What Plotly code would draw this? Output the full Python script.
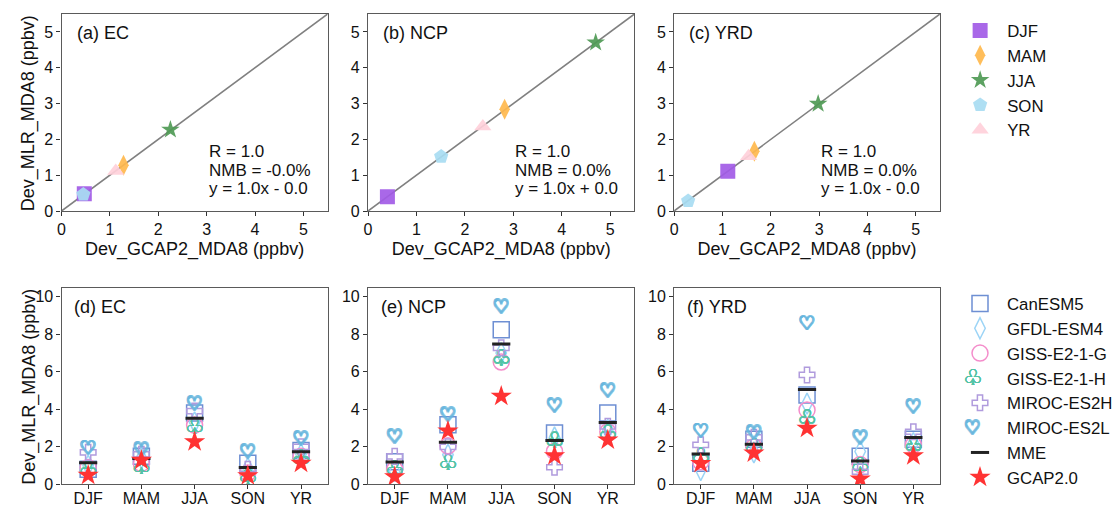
import plotly.graph_objects as go

W, H = 1118, 507

# ---------------- data ----------------
seasons = ["DJF", "MAM", "JJA", "SON", "YR"]
top_labels = ["(a) EC", "(b) NCP", "(c) YRD"]
bot_labels = ["(d) EC", "(e) NCP", "(f) YRD"]

# Dev_GCAP2_MDA8 (x of top panels)
gcap_ec = [0.47, 1.28, 2.25, 0.45, 1.12]
gcap_ncp = [0.40, 2.82, 4.70, 1.51, 2.37]
gcap_yrd = [1.11, 1.66, 2.98, 0.29, 1.54]
# Dev_MLR_MDA8 driven by GCAP2.0 (y of top panels, stars of bottom panels)
mlr_ec = [0.48, 1.28, 2.27, 0.46, 1.12]
mlr_ncp = [0.40, 2.84, 4.70, 1.52, 2.36]
mlr_yrd = [1.11, 1.67, 2.99, 0.28, 1.53]

stats_a = ["R = 1.0", "NMB = -0.0%", "y = 1.0x - 0.0"]
stats_b = ["R = 1.0", "NMB = 0.0%", "y = 1.0x + 0.0"]
stats_c = ["R = 1.0", "NMB = 0.0%", "y = 1.0x - 0.0"]

one_to_one = [0, 5.5]

# CMIP6 models, Dev_MLR_MDA8 (ppbv)
canesm5_ec = [0.80, 1.50, 3.80, 1.12, 1.80]
canesm5_ncp = [1.20, 3.18, 8.24, 2.73, 3.80]
canesm5_yrd = [1.12, 2.40, 4.76, 1.50, 2.40]

gfdl_ec = [1.00, 1.40, 3.30, 0.85, 1.60]
gfdl_ncp = [0.70, 1.58, 7.00, 2.50, 2.90]
gfdl_yrd = [0.76, 1.70, 4.30, 1.75, 2.20]

gissg_ec = [0.90, 1.10, 3.16, 0.60, 1.50]
gissg_ncp = [0.80, 2.05, 6.52, 1.76, 2.80]
gissg_yrd = [1.20, 2.00, 3.96, 1.05, 2.10]

gissh_ec = [0.70, 0.85, 2.98, 0.30, 1.30]
gissh_ncp = [0.73, 1.05, 6.64, 2.24, 2.64]
gissh_yrd = [1.39, 1.90, 3.43, 0.90, 2.00]

mirocH_ec = [1.70, 1.60, 3.90, 0.80, 2.00]
mirocH_ncp = [1.49, 2.00, 7.27, 0.91, 3.09]
mirocH_yrd = [2.10, 2.50, 5.83, 0.67, 2.80]

mirocL_ec = [1.85, 1.75, 4.23, 1.65, 2.36]
mirocL_ncp = [2.47, 3.62, 9.40, 4.10, 4.90]
mirocL_yrd = [2.75, 2.68, 8.50, 2.40, 4.05]

mme_ec = [1.15, 1.38, 3.52, 0.89, 1.74]
mme_ncp = [1.19, 2.24, 7.48, 2.33, 3.30]
mme_yrd = [1.62, 2.13, 5.06, 1.24, 2.50]

# ---------------- styles ----------------
FONT = "Liberation Sans, Arial, sans-serif"
TXT = "#111111"
season_style = {
    "DJF": dict(symbol="square", color="#A25BE6", size=15),
    "MAM": dict(symbol="diamond-tall", color="#FFB84D", size=15),
    "JJA": dict(symbol="star", color="#4F9A55", size=14),
    "SON": dict(symbol="pentagon", color="#A8DCF2", size=15),
    "YR": dict(symbol="triangle-up", color="#FFD0DA", size=15),
}

top_x = [gcap_ec, gcap_ncp, gcap_yrd]
top_y = [mlr_ec, mlr_ncp, mlr_yrd]
top_stats = [stats_a, stats_b, stats_c]


def outline(c, w=0.8):
    return (f"{w}px 0 0 {c}, -{w}px 0 0 {c}, 0 {w}px 0 {c}, 0 -{w}px 0 {c}, "
            f"{w}px {w}px 0 {c}, -{w}px -{w}px 0 {c}, {w}px -{w}px 0 {c}, -{w}px {w}px 0 {c}")


models = [
    ("CanESM5", [canesm5_ec, canesm5_ncp, canesm5_yrd], dict(kind="marker", symbol="square-open", color="#6E8FD3", size=16, lw=1.5)),
    ("GFDL-ESM4", [gfdl_ec, gfdl_ncp, gfdl_yrd], dict(kind="marker", symbol="diamond-tall-open", color="#9CD4F6", size=15, lw=1.5)),
    ("GISS-E2-1-G", [gissg_ec, gissg_ncp, gissg_yrd], dict(kind="marker", symbol="circle-open", color="#F48DCB", size=16, lw=1.5)),
    ("GISS-E2-1-H", [gissh_ec, gissh_ncp, gissh_yrd], dict(kind="text", glyph="\u2667", color="#52C4A6", size=22, shadow=outline("#52C4A6", 0.3), ypix=377)),
    ("MIROC-ES2H", [mirocH_ec, mirocH_ncp, mirocH_yrd], dict(kind="marker", symbol="cross-open", color="#B09BDD", size=13, lw=1.5)),
    ("MIROC-ES2L", [mirocL_ec, mirocL_ncp, mirocL_yrd], dict(kind="text", glyph="\u2661", color="#66B6DE", size=19, shadow=outline("#66B6DE"), ypix=427)),
]
mme = [mme_ec, mme_ncp, mme_yrd]
gcap_bottom = [mlr_ec, mlr_ncp, mlr_yrd]

# ---------------- layout geometry (pixels) ----------------
xdom_px = [(62, 330), (370.7, 639), (679, 946.7)]
top_px = (14, 211)
bot_px = (287.7, 484.3)


def py(p):
    return 1 - p / H


fig = go.Figure()

# ---------------- top panels ----------------
for i in range(3):
    xa = "x" if i == 0 else f"x{i+1}"
    ya = "y" if i == 0 else f"y{i+1}"
    fig.add_trace(go.Scatter(x=one_to_one, y=one_to_one, mode="lines",
                             line=dict(color="#808080", width=1.6),
                             showlegend=False, hoverinfo="skip", xaxis=xa, yaxis=ya))
    for k, s in enumerate(seasons):
        st = season_style[s]
        fig.add_trace(go.Scatter(
            x=[top_x[i][k]], y=[top_y[i][k]], mode="markers", name=s,
            marker=dict(symbol=st["symbol"], color=st["color"], size=st["size"],
                        opacity=0.92, line=dict(width=0)),
            showlegend=(i == 0), legend="legend", xaxis=xa, yaxis=ya))

# ---------------- bottom panels ----------------
for name, series, st in models:
    if st["kind"] == "text":
        # legend-only placeholder (glyph drawn by annotation)
        fig.add_trace(go.Scatter(x=[None], y=[None], mode="markers", name=name,
                                 marker=dict(color="rgba(0,0,0,0)", size=12),
                                 legend="legend2", xaxis="x4", yaxis="y4"))
    for i in range(3):
        xa, ya = f"x{i+4}", f"y{i+4}"
        if st["kind"] == "marker":
            fig.add_trace(go.Scatter(
                x=seasons, y=series[i], mode="markers", name=name,
                marker=dict(symbol=st["symbol"], color=st["color"], size=st["size"],
                            line=dict(width=st["lw"], color=st["color"])),
                showlegend=(i == 0), legend="legend2", xaxis=xa, yaxis=ya))
        else:
            fig.add_trace(go.Scatter(
                x=seasons, y=series[i], mode="text", name=name,
                text=[st["glyph"]] * len(seasons), textposition="middle center",
                textfont=dict(family="DejaVu Sans", size=st["size"], color=st["color"],
                              shadow=st["shadow"]),
                showlegend=False, xaxis=xa, yaxis=ya))

for i in range(3):
    xa, ya = f"x{i+4}", f"y{i+4}"
    fig.add_trace(go.Scatter(
        x=seasons, y=mme[i], mode="markers", name="MME",
        marker=dict(symbol="line-ew", size=13, color="#222222",
                    line=dict(width=3, color="#222222")),
        showlegend=(i == 0), legend="legend2", xaxis=xa, yaxis=ya))
for i in range(3):
    xa, ya = f"x{i+4}", f"y{i+4}"
    fig.add_trace(go.Scatter(
        x=seasons, y=gcap_bottom[i], mode="markers", name="GCAP2.0",
        marker=dict(symbol="star", size=16, color="#FF3333", line=dict(width=0)),
        showlegend=(i == 0), legend="legend2", xaxis=xa, yaxis=ya))

# ---------------- axes ----------------
axis_common = dict(showline=True, mirror=True, linecolor="#5a5a5a", linewidth=1.2,
                   ticks="outside", ticklen=4, tickwidth=1, tickcolor="#333333",
                   showgrid=False, zeroline=False, automargin=False,
                   tickfont=dict(family=FONT, size=16, color=TXT))
title_font = dict(family=FONT, size=18, color=TXT)

layout = dict()
for i in range(6):
    xname = "xaxis" if i == 0 else f"xaxis{i+1}"
    yname = "yaxis" if i == 0 else f"yaxis{i+1}"
    xref = "x" if i == 0 else f"x{i+1}"
    yref = "y" if i == 0 else f"y{i+1}"
    col = i % 3
    x0, x1 = xdom_px[col]
    if i < 3:
        t0, t1 = top_px
        xa = dict(axis_common, domain=[x0 / W, x1 / W], anchor=yref, range=[0, 5.5],
                  tickvals=[0, 1, 2, 3, 4, 5],
                  title=dict(text="Dev_GCAP2_MDA8 (ppbv)", font=title_font, standoff=5))
        ya = dict(axis_common, domain=[py(t1), py(t0)], anchor=xref, range=[0, 5.5],
                  tickvals=[0, 1, 2, 3, 4, 5])
    else:
        t0, t1 = bot_px
        xa = dict(axis_common, domain=[x0 / W, x1 / W], anchor=yref, type="category",
                  categoryorder="array", categoryarray=seasons, range=[-0.5, 4.5],
                  ticklabelstandoff=-5)
        ya = dict(axis_common, domain=[py(t1), py(t0)], anchor=xref, range=[0, 10.48],
                  tickvals=[0, 2, 4, 6, 8, 10])
    layout[xname] = xa
    layout[yname] = ya

annotations = []
# y-axis titles of the left column
for yc in [(top_px[0] + top_px[1]) / 2 + 1, (bot_px[0] + bot_px[1]) / 2 + 1]:
    annotations.append(dict(text="Dev_MLR_MDA8 (ppbv)", xref="paper", yref="paper",
                            x=29 / W, y=py(yc), xanchor="center", yanchor="middle",
                            textangle=-90, showarrow=False, font=title_font))

for i in range(3):
    xref = "x" if i == 0 else f"x{i+1}"
    yref = "y" if i == 0 else f"y{i+1}"
    annotations.append(dict(text=top_labels[i], xref=f"{xref} domain", yref=f"{yref} domain",
                            x=0.05, y=0.905, xanchor="left", yanchor="middle", showarrow=False,
                            font=dict(family=FONT, size=18, color=TXT)))
    for j, line in enumerate(top_stats[i]):
        annotations.append(dict(text=line, xref=f"{xref} domain", yref=f"{yref} domain",
                                x=0.545, y=[0.30, 0.208, 0.116][j], xanchor="left",
                                yanchor="middle", showarrow=False,
                                font=dict(family=FONT, size=17, color=TXT)))
    annotations.append(dict(text=bot_labels[i], xref=f"x{i+4} domain", yref=f"y{i+4} domain",
                            x=0.04, y=0.90, xanchor="left", yanchor="middle", showarrow=False,
                            font=dict(family=FONT, size=18, color=TXT)))

# legend glyphs for symbols without a plotly marker (club / heart)
for name, series, st in models:
    if st["kind"] == "text":
        annotations.append(dict(text=st["glyph"], xref="paper", yref="paper",
                                x=980 / W, y=py(st["ypix"]), xanchor="center", yanchor="middle",
                                showarrow=False,
                                font=dict(family="DejaVu Sans", size=st["size"],
                                          color=st["color"], shadow=st["shadow"])))

fig.update_layout(
    **layout,
    template="none",
    annotations=annotations,
    width=W, height=H,
    margin=dict(l=0, r=0, t=0, b=0),
    paper_bgcolor="white", plot_bgcolor="white",
    font=dict(family=FONT, size=16, color=TXT),
    showlegend=True,
    legend=dict(x=960 / W, y=py(13), xanchor="left", yanchor="top",
                font=dict(family=FONT, size=16.8, color=TXT),
                bgcolor="rgba(0,0,0,0)", itemwidth=44, borderwidth=0),
    legend2=dict(x=960 / W, y=py(286), xanchor="left", yanchor="top",
                 font=dict(family=FONT, size=16.8, color=TXT),
                 bgcolor="rgba(0,0,0,0)", itemwidth=44, borderwidth=0),
)

fig.write_html("out.html", config={"displayModeBar": False},
               post_script="document.body.style.margin='0px';document.body.style.overflow='hidden';")
